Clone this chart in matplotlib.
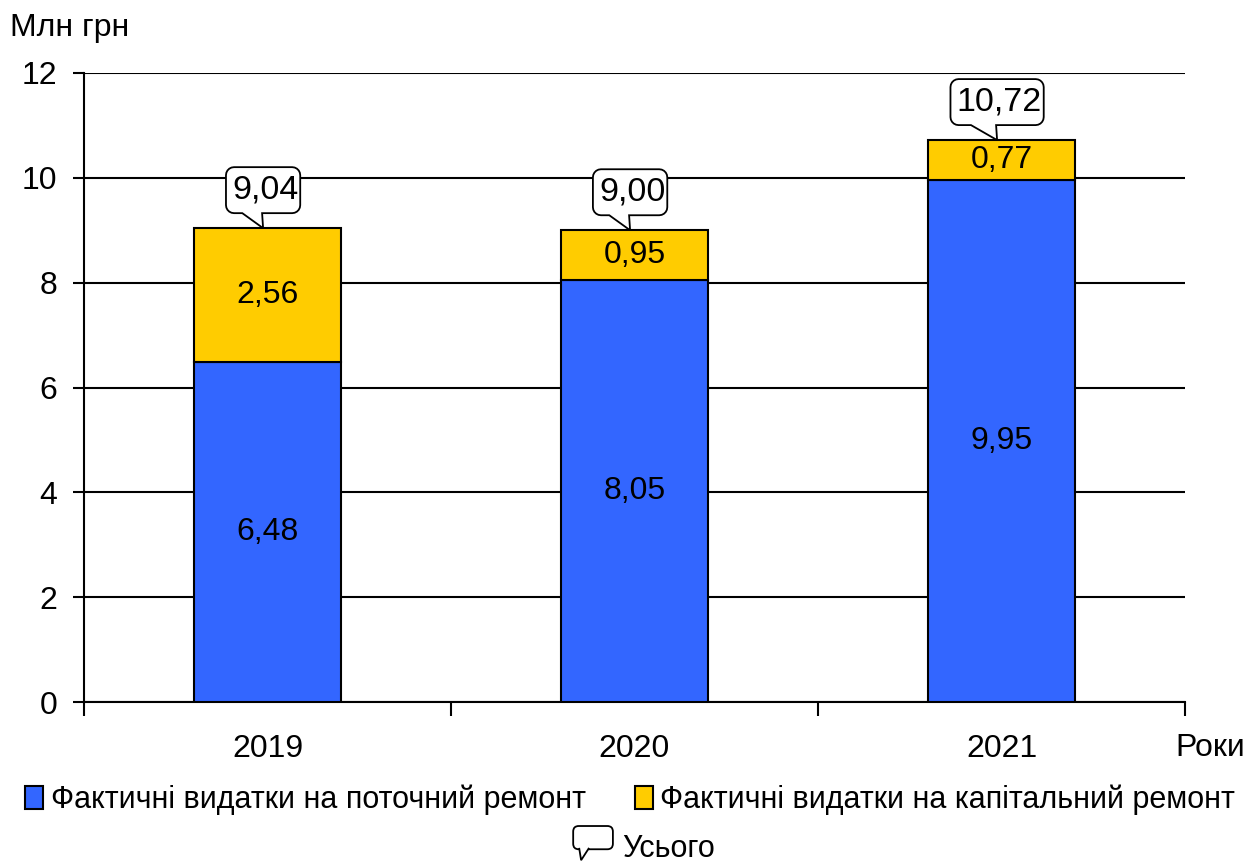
import numpy as np
import matplotlib.pyplot as plt
from matplotlib.patches import Patch, FancyBboxPatch, Polygon
from matplotlib.transforms import ScaledTranslation

plt.rcParams['font.family'] = ['Liberation Sans', 'DejaVu Sans']

years = ['2019', '2020', '2021']
current = [6.48, 8.05, 9.95]
capital = [2.56, 0.95, 0.77]
total = [9.04, 9.00, 10.72]
lbl_cur = ['6,48', '8,05', '9,95']
lbl_cap = ['2,56', '0,95', '0,77']
lbl_tot = ['9,04', '9,00', '10,72']

blue = '#3366FF'
yellow = '#FFCC00'
fs = 23

fig = plt.figure(figsize=(12.47, 8.65), dpi=100)
ax = fig.add_axes([84/1247, 1-702/865, (1185-84)/1247, (702-73)/865])

x = np.arange(len(years))
ax.bar(x, current, width=0.4, color=blue, edgecolor='black', linewidth=1.5, zorder=3)
ax.bar(x, capital, width=0.4, bottom=current, color=yellow, edgecolor='black', linewidth=1.5, zorder=3)


def callout_points(w, h, gap, r=8, n=6):
    # rounded box with a tail, in pixels relative to the tail tip
    left, right = -w/2, w/2
    bot, top = gap, gap + h
    pts = [(0, 0), (-1, bot)]
    def arc(cx, cy, a0, a1):
        return [(cx + r*np.cos(a), cy + r*np.sin(a)) for a in np.linspace(a0, a1, n)]
    pts += arc(right - r, bot + r, -np.pi/2, 0)
    pts += arc(right - r, top - r, 0, np.pi/2)
    pts += arc(left + r, top - r, np.pi/2, np.pi)
    pts += arc(left + r, bot + r, np.pi, 1.5*np.pi)
    pts += [(-0.28*w, bot)]
    return np.array(pts)


fig.canvas.draw()
rend = fig.canvas.get_renderer()
for i in range(len(years)):
    ax.text(x[i], current[i]/2, lbl_cur[i], ha='center', va='center', fontsize=fs, zorder=4)
    ax.text(x[i], current[i] + capital[i]/2, lbl_cap[i], ha='center', va='center', fontsize=fs, zorder=4)
    t = ax.text(0, 0.38, lbl_tot[i], ha='center', va='center', fontsize=24.5, zorder=7,
                transform=fig.dpi_scale_trans + ScaledTranslation(x[i] - 0.006, total[i], ax.transData))
    tw = t.get_window_extent(rend).width
    pts = callout_points(tw + 8, 46, 15) / 100.0
    ax.add_patch(Polygon(pts, closed=True, fc='white', ec='black', lw=1.3, zorder=6,
                         transform=fig.dpi_scale_trans + ScaledTranslation(x[i] - 0.012, total[i], ax.transData),
                         clip_on=False))

ax.set_xlim(-0.5, 2.5)
ax.set_ylim(0, 12)
ax.set_yticks(range(0, 13, 2))
ax.yaxis.grid(True, color='black', linewidth=1.5, zorder=0)
ax.set_axisbelow(True)
ax.set_xticks([-0.5, 0.5, 1.5, 2.5])
ax.set_xticklabels([])
ax.set_xticks(x, minor=True)
ax.set_xticklabels(years, minor=True, fontsize=fs)
ax.tick_params(axis='x', which='minor', length=0, pad=23)
ax.tick_params(axis='x', which='major', length=10, width=1.5)
ax.tick_params(axis='y', labelsize=fs, length=8, width=1.5, pad=11)
for s in ['top', 'right']:
    ax.spines[s].set_visible(False)
for s in ['left', 'bottom']:
    ax.spines[s].set_linewidth(1.5)

fig.text(10/1247, 1-28/865, 'Млн грн', fontsize=fs, va='center', ha='left')
fig.text(1245/1247, 1-748/865, 'Роки', fontsize=fs, va='center', ha='right')


class CalloutHandler:
    def legend_artist(self, legend, orig_handle, fontsize, handlebox):
        x0, y0 = handlebox.xdescent, handlebox.ydescent
        w, h = handlebox.width, handlebox.height
        box = FancyBboxPatch((x0, y0 + h*0.15), w, h*0.85,
                             boxstyle='round,pad=0,rounding_size=4', fc='white', ec='black', lw=1.3,
                             transform=handlebox.get_transform())
        tail = Polygon([[x0 + w*0.15, y0 + h*0.2], [x0 + w*0.2, y0 - h*0.25], [x0 + w*0.4, y0 + h*0.2]],
                       closed=False, fc='white', ec='black', lw=1.3, transform=handlebox.get_transform())
        handlebox.add_artist(box)
        handlebox.add_artist(tail)
        return box


h1 = [Patch(fc=blue, ec='black', lw=1.5), Patch(fc=yellow, ec='black', lw=1.5)]
leg1 = fig.legend(h1, ['Фактичні видатки на поточний ремонт', 'Фактичні видатки на капітальний ремонт'],
                  loc='center', bbox_to_anchor=(630/1247, 1-800/865), ncol=2, frameon=False, fontsize=22,
                  handlelength=0.6, handleheight=0.8, handletextpad=0.25, columnspacing=1.6,
                  borderpad=0, borderaxespad=0)
leg2 = fig.legend([Patch()], ['Усього'], loc='center', bbox_to_anchor=(644/1247, 1-848/865), frameon=False,
                  fontsize=22, handlelength=1.3, handleheight=1.0, handletextpad=0.3,
                  borderpad=0, borderaxespad=0, handler_map={Patch: CalloutHandler()})

fig.savefig('out.png', dpi=100)
